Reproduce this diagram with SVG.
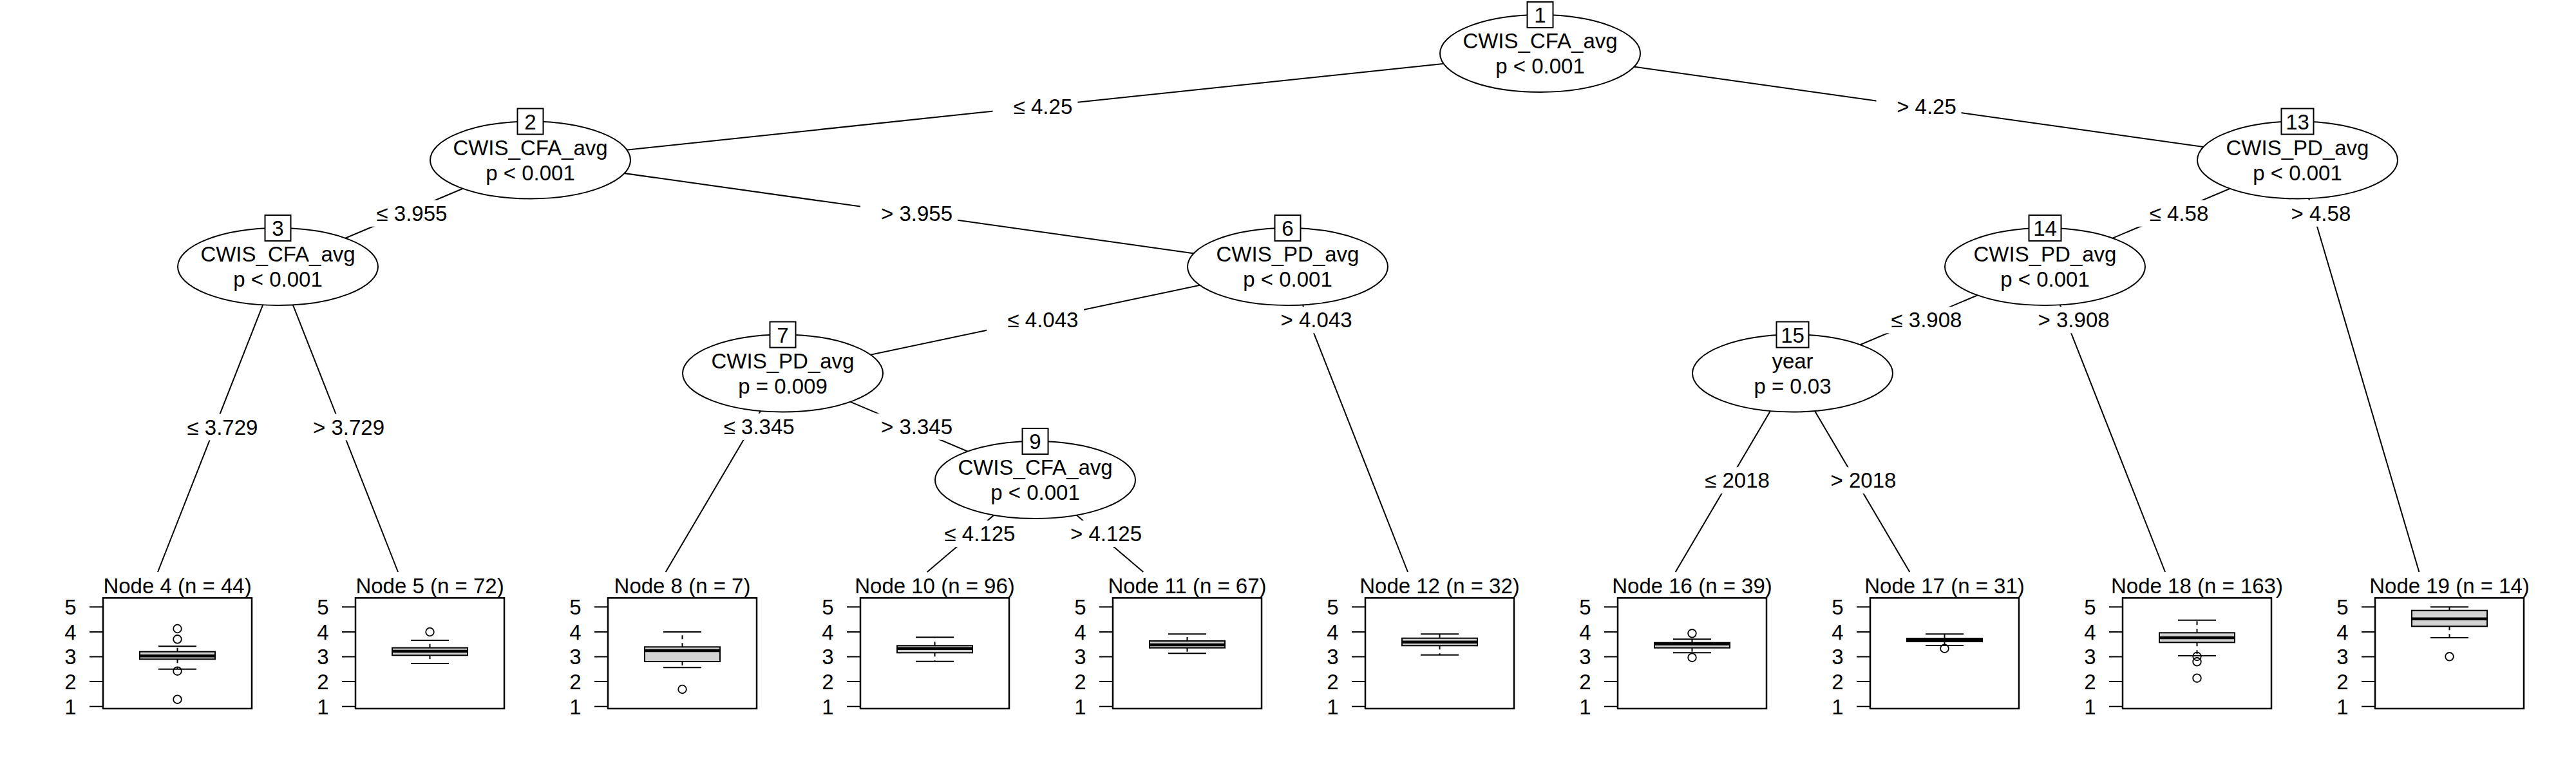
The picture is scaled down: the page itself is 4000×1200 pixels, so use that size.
<svg xmlns="http://www.w3.org/2000/svg" xmlns:xlink="http://www.w3.org/1999/xlink" width="4000" height="1200" viewBox="0 0 4000 1200">
<style>
text{font-family:"Liberation Sans",Arial,Helvetica,sans-serif;font-size:33px;fill:#000}
.m{text-anchor:middle}
.e{text-anchor:end}
.ln{stroke:#000;stroke-width:2;fill:none}
.el{fill:#fff;stroke:#000;stroke-width:2}
.idb{fill:#fff;stroke:#000;stroke-width:2}
.lb{fill:#fff;stroke:none}
.frame{fill:none;stroke:#000;stroke-width:2.5}
.tick{stroke:#000;stroke-width:2}
.box{fill:#d3d3d3;stroke:#000;stroke-width:2}
.med{stroke:#000;stroke-width:4.5}
.wh{stroke:#000;stroke-width:2;stroke-dasharray:6 6}
.cap{stroke:#000;stroke-width:2}
.out{fill:none;stroke:#000;stroke-width:1.8}
</style>
<defs>
<g id="axis">
<rect class="frame" x="-115.5" y="928.3" width="231" height="171.7"/>
<path class="tick" d="M-136.5 942.3H-115.5M-136.5 980.9H-115.5M-136.5 1019.5H-115.5M-136.5 1058.1H-115.5M-136.5 1096.7H-115.5"/>
<text class="e" x="-157" y="954.1">5</text>
<text class="e" x="-157" y="992.7">4</text>
<text class="e" x="-157" y="1031.3">3</text>
<text class="e" x="-157" y="1069.9">2</text>
<text class="e" x="-157" y="1108.5">1</text>
</g>
</defs>
<rect x="0" y="0" width="4000" height="1200" fill="#fff"/>

<g id="connectors">
<path class="ln" d="M2391.5 83L823.5 248.5"/>
<path class="ln" d="M2391.5 83L3567.5 248.5"/>
<path class="ln" d="M823.5 248.5L431.5 414"/>
<path class="ln" d="M823.5 248.5L1999.5 414"/>
<path class="ln" d="M431.5 414L245 888"/>
<path class="ln" d="M431.5 414L618.05 888"/>
<path class="ln" d="M1999.5 414L1215.5 579.5"/>
<path class="ln" d="M1999.5 414L2186.05 888"/>
<path class="ln" d="M1215.5 579.5L1033.65 888"/>
<path class="ln" d="M1215.5 579.5L1607.5 745"/>
<path class="ln" d="M1607.5 745L1439.67 888"/>
<path class="ln" d="M1607.5 745L1775.33 888"/>
<path class="ln" d="M3567.5 248.5L3175.5 414"/>
<path class="ln" d="M3567.5 248.5L3756.41 888"/>
<path class="ln" d="M3175.5 414L2783.5 579.5"/>
<path class="ln" d="M3175.5 414L3362.05 888"/>
<path class="ln" d="M2783.5 579.5L2601.65 888"/>
<path class="ln" d="M2783.5 579.5L2965.35 888"/>
</g>

<g id="edge-labels">
<rect class="lb" x="1541.5" y="145.25" width="132" height="41"/><text class="m" x="1619.5" y="177.25">≤ 4.25</text>
<rect class="lb" x="2913.5" y="145.25" width="132" height="41"/><text class="m" x="2991.5" y="177.25">&gt; 4.25</text>
<rect class="lb" x="552" y="310.75" width="151" height="41"/><text class="m" x="639.5" y="342.75">≤ 3.955</text>
<rect class="lb" x="1336" y="310.75" width="151" height="41"/><text class="m" x="1423.5" y="342.75">&gt; 3.955</text>
<rect class="lb" x="258" y="642.5" width="151" height="41"/><text class="m" x="345.5" y="674.5">≤ 3.729</text>
<rect class="lb" x="454" y="642.5" width="151" height="41"/><text class="m" x="541.5" y="674.5">&gt; 3.729</text>
<rect class="lb" x="1532" y="476.25" width="151" height="41"/><text class="m" x="1619.5" y="508.25">≤ 4.043</text>
<rect class="lb" x="1956.6" y="476.25" width="151" height="41"/><text class="m" x="2044.1" y="508.25">&gt; 4.043</text>
<rect class="lb" x="1091.2" y="641.75" width="151" height="41"/><text class="m" x="1178.7" y="673.75">≤ 3.345</text>
<rect class="lb" x="1336" y="641.75" width="151" height="41"/><text class="m" x="1423.5" y="673.75">&gt; 3.345</text>
<rect class="lb" x="1434" y="808" width="151" height="41"/><text class="m" x="1521.5" y="840">≤ 4.125</text>
<rect class="lb" x="1630" y="808" width="151" height="41"/><text class="m" x="1717.5" y="840">&gt; 4.125</text>
<rect class="lb" x="3305.5" y="310.75" width="132" height="41"/><text class="m" x="3383.5" y="342.75">≤ 4.58</text>
<rect class="lb" x="3525.9" y="310.75" width="132" height="41"/><text class="m" x="3603.9" y="342.75">&gt; 4.58</text>
<rect class="lb" x="2904" y="476.25" width="151" height="41"/><text class="m" x="2991.5" y="508.25">≤ 3.908</text>
<rect class="lb" x="3132.6" y="476.25" width="151" height="41"/><text class="m" x="3220.1" y="508.25">&gt; 3.908</text>
<rect class="lb" x="2614.5" y="725.25" width="142" height="41"/><text class="m" x="2697.5" y="757.25">≤ 2018</text>
<rect class="lb" x="2810.5" y="725.25" width="142" height="41"/><text class="m" x="2893.5" y="757.25">&gt; 2018</text>
</g>

<g id="node1">
<ellipse class="el" cx="2391.5" cy="83" rx="155.5" ry="60"/>
<rect class="idb" x="2371.5" y="3" width="40" height="40"/>
<text class="m" x="2391.5" y="35">1</text>
<text class="m" x="2391.5" y="75">CWIS_CFA_avg</text>
<text class="m" x="2391.5" y="114">p &lt; 0.001</text>
</g>
<g id="node2">
<ellipse class="el" cx="823.5" cy="248.5" rx="155.5" ry="60"/>
<rect class="idb" x="803.5" y="168.5" width="40" height="40"/>
<text class="m" x="823.5" y="200.5">2</text>
<text class="m" x="823.5" y="240.5">CWIS_CFA_avg</text>
<text class="m" x="823.5" y="279.5">p &lt; 0.001</text>
</g>
<g id="node3">
<ellipse class="el" cx="431.5" cy="414" rx="155.5" ry="60"/>
<rect class="idb" x="411.5" y="334" width="40" height="40"/>
<text class="m" x="431.5" y="366">3</text>
<text class="m" x="431.5" y="406">CWIS_CFA_avg</text>
<text class="m" x="431.5" y="445">p &lt; 0.001</text>
</g>
<g id="node6">
<ellipse class="el" cx="1999.5" cy="414" rx="155.5" ry="60"/>
<rect class="idb" x="1979.5" y="334" width="40" height="40"/>
<text class="m" x="1999.5" y="366">6</text>
<text class="m" x="1999.5" y="406">CWIS_PD_avg</text>
<text class="m" x="1999.5" y="445">p &lt; 0.001</text>
</g>
<g id="node7">
<ellipse class="el" cx="1215.5" cy="579.5" rx="155.5" ry="60"/>
<rect class="idb" x="1195.5" y="499.5" width="40" height="40"/>
<text class="m" x="1215.5" y="531.5">7</text>
<text class="m" x="1215.5" y="571.5">CWIS_PD_avg</text>
<text class="m" x="1215.5" y="610.5">p = 0.009</text>
</g>
<g id="node9">
<ellipse class="el" cx="1607.5" cy="745" rx="155.5" ry="60"/>
<rect class="idb" x="1587.5" y="665" width="40" height="40"/>
<text class="m" x="1607.5" y="697">9</text>
<text class="m" x="1607.5" y="737">CWIS_CFA_avg</text>
<text class="m" x="1607.5" y="776">p &lt; 0.001</text>
</g>
<g id="node13">
<ellipse class="el" cx="3567.5" cy="248.5" rx="155.5" ry="60"/>
<rect class="idb" x="3542.5" y="168.5" width="50" height="40"/>
<text class="m" x="3567.5" y="200.5">13</text>
<text class="m" x="3567.5" y="240.5">CWIS_PD_avg</text>
<text class="m" x="3567.5" y="279.5">p &lt; 0.001</text>
</g>
<g id="node14">
<ellipse class="el" cx="3175.5" cy="414" rx="155.5" ry="60"/>
<rect class="idb" x="3150.5" y="334" width="50" height="40"/>
<text class="m" x="3175.5" y="366">14</text>
<text class="m" x="3175.5" y="406">CWIS_PD_avg</text>
<text class="m" x="3175.5" y="445">p &lt; 0.001</text>
</g>
<g id="node15">
<ellipse class="el" cx="2783.5" cy="579.5" rx="155.5" ry="60"/>
<rect class="idb" x="2758.5" y="499.5" width="50" height="40"/>
<text class="m" x="2783.5" y="531.5">15</text>
<text class="m" x="2783.5" y="571.5">year</text>
<text class="m" x="2783.5" y="610.5">p = 0.03</text>
</g>

<g id="node4" transform="translate(275.5 0)">
<text class="m" x="0" y="921">Node 4 (n = 44)</text>
<use xlink:href="#axis" href="#axis"/>
<line class="wh" x1="0" x2="0" y1="1011.7" y2="1003.3"/>
<line class="wh" x1="0" x2="0" y1="1023.3" y2="1038.7"/>
<rect class="box" x="-58.5" y="1011.7" width="117" height="11.6"/>
<line class="med" x1="-58.5" x2="58.5" y1="1018.3" y2="1018.3"/>
<line class="cap" x1="-29.5" x2="29.5" y1="1003.3" y2="1003.3"/>
<line class="cap" x1="-29.5" x2="29.5" y1="1038.7" y2="1038.7"/>
<circle class="out" cx="0" cy="976" r="6.3"/>
<circle class="out" cx="0" cy="992.3" r="6.3"/>
<circle class="out" cx="0" cy="1041.7" r="6.3"/>
<circle class="out" cx="0" cy="1085.7" r="6.3"/>
</g>
<g id="node5" transform="translate(667.5 0)">
<text class="m" x="0" y="921">Node 5 (n = 72)</text>
<use xlink:href="#axis" href="#axis"/>
<line class="wh" x1="0" x2="0" y1="1005.7" y2="994"/>
<line class="wh" x1="0" x2="0" y1="1017.3" y2="1030"/>
<rect class="box" x="-58.5" y="1005.7" width="117" height="11.6"/>
<line class="med" x1="-58.5" x2="58.5" y1="1011" y2="1011"/>
<line class="cap" x1="-29.5" x2="29.5" y1="994" y2="994"/>
<line class="cap" x1="-29.5" x2="29.5" y1="1030" y2="1030"/>
<circle class="out" cx="0" cy="981" r="6.3"/>
</g>
<g id="node8" transform="translate(1059.5 0)">
<text class="m" x="0" y="921">Node 8 (n = 7)</text>
<use xlink:href="#axis" href="#axis"/>
<line class="wh" x1="0" x2="0" y1="1004.3" y2="981"/>
<line class="wh" x1="0" x2="0" y1="1027" y2="1036.3"/>
<rect class="box" x="-58.5" y="1004.3" width="117" height="22.7"/>
<line class="med" x1="-58.5" x2="58.5" y1="1010" y2="1010"/>
<line class="cap" x1="-29.5" x2="29.5" y1="981" y2="981"/>
<line class="cap" x1="-29.5" x2="29.5" y1="1036.3" y2="1036.3"/>
<circle class="out" cx="0" cy="1070" r="6.3"/>
</g>
<g id="node10" transform="translate(1451.5 0)">
<text class="m" x="0" y="921">Node 10 (n = 96)</text>
<use xlink:href="#axis" href="#axis"/>
<line class="wh" x1="0" x2="0" y1="1002.3" y2="989.3"/>
<line class="wh" x1="0" x2="0" y1="1013.3" y2="1026.7"/>
<rect class="box" x="-58.5" y="1002.3" width="117" height="11"/>
<line class="med" x1="-58.5" x2="58.5" y1="1006.7" y2="1006.7"/>
<line class="cap" x1="-29.5" x2="29.5" y1="989.3" y2="989.3"/>
<line class="cap" x1="-29.5" x2="29.5" y1="1026.7" y2="1026.7"/>
</g>
<g id="node11" transform="translate(1843.5 0)">
<text class="m" x="0" y="921">Node 11 (n = 67)</text>
<use xlink:href="#axis" href="#axis"/>
<line class="wh" x1="0" x2="0" y1="995" y2="984.3"/>
<line class="wh" x1="0" x2="0" y1="1005.7" y2="1014.3"/>
<rect class="box" x="-58.5" y="995" width="117" height="10.7"/>
<line class="med" x1="-58.5" x2="58.5" y1="1001" y2="1001"/>
<line class="cap" x1="-29.5" x2="29.5" y1="984.3" y2="984.3"/>
<line class="cap" x1="-29.5" x2="29.5" y1="1014.3" y2="1014.3"/>
</g>
<g id="node12" transform="translate(2235.5 0)">
<text class="m" x="0" y="921">Node 12 (n = 32)</text>
<use xlink:href="#axis" href="#axis"/>
<line class="wh" x1="0" x2="0" y1="990.7" y2="984.3"/>
<line class="wh" x1="0" x2="0" y1="1002.3" y2="1016.7"/>
<rect class="box" x="-58.5" y="990.7" width="117" height="11.6"/>
<line class="med" x1="-58.5" x2="58.5" y1="996.7" y2="996.7"/>
<line class="cap" x1="-29.5" x2="29.5" y1="984.3" y2="984.3"/>
<line class="cap" x1="-29.5" x2="29.5" y1="1016.7" y2="1016.7"/>
</g>
<g id="node16" transform="translate(2627.5 0)">
<text class="m" x="0" y="921">Node 16 (n = 39)</text>
<use xlink:href="#axis" href="#axis"/>
<line class="wh" x1="0" x2="0" y1="997.7" y2="992.3"/>
<line class="wh" x1="0" x2="0" y1="1005.7" y2="1013.3"/>
<rect class="box" x="-58.5" y="997.7" width="117" height="8"/>
<line class="med" x1="-58.5" x2="58.5" y1="999.7" y2="999.7"/>
<line class="cap" x1="-29.5" x2="29.5" y1="992.3" y2="992.3"/>
<line class="cap" x1="-29.5" x2="29.5" y1="1013.3" y2="1013.3"/>
<circle class="out" cx="0" cy="983.3" r="6.3"/>
<circle class="out" cx="0" cy="1020.7" r="6.3"/>
</g>
<g id="node17" transform="translate(3019.5 0)">
<text class="m" x="0" y="921">Node 17 (n = 31)</text>
<use xlink:href="#axis" href="#axis"/>
<line class="wh" x1="0" x2="0" y1="991" y2="984.3"/>
<line class="wh" x1="0" x2="0" y1="996" y2="1002"/>
<rect class="box" x="-58.5" y="991" width="117" height="5"/>
<line class="med" x1="-58.5" x2="58.5" y1="993.3" y2="993.3"/>
<line class="cap" x1="-29.5" x2="29.5" y1="984.3" y2="984.3"/>
<line class="cap" x1="-29.5" x2="29.5" y1="1002" y2="1002"/>
<circle class="out" cx="0" cy="1006.7" r="6.3"/>
</g>
<g id="node18" transform="translate(3411.5 0)">
<text class="m" x="0" y="921">Node 18 (n = 163)</text>
<use xlink:href="#axis" href="#axis"/>
<line class="wh" x1="0" x2="0" y1="982.3" y2="962.7"/>
<line class="wh" x1="0" x2="0" y1="997.3" y2="1018"/>
<rect class="box" x="-58.5" y="982.3" width="117" height="15"/>
<line class="med" x1="-58.5" x2="58.5" y1="990" y2="990"/>
<line class="cap" x1="-29.5" x2="29.5" y1="962.7" y2="962.7"/>
<line class="cap" x1="-29.5" x2="29.5" y1="1018" y2="1018"/>
<circle class="out" cx="0" cy="1019" r="6.3"/>
<circle class="out" cx="0" cy="1027.3" r="6.3"/>
<circle class="out" cx="0" cy="1052.7" r="6.3"/>
</g>
<g id="node19" transform="translate(3803.5 0)">
<text class="m" x="0" y="921">Node 19 (n = 14)</text>
<use xlink:href="#axis" href="#axis"/>
<line class="wh" x1="0" x2="0" y1="947.7" y2="942.3"/>
<line class="wh" x1="0" x2="0" y1="972.3" y2="990"/>
<rect class="box" x="-58.5" y="947.7" width="117" height="24.6"/>
<line class="med" x1="-58.5" x2="58.5" y1="960.7" y2="960.7"/>
<line class="cap" x1="-29.5" x2="29.5" y1="942.3" y2="942.3"/>
<line class="cap" x1="-29.5" x2="29.5" y1="990" y2="990"/>
<circle class="out" cx="0" cy="1019.3" r="6.3"/>
</g>
</svg>
